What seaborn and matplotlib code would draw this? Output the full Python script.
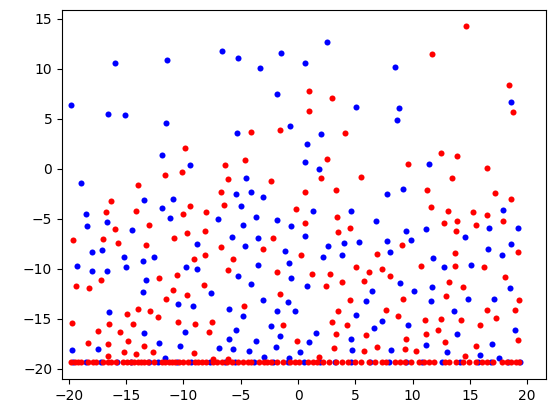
import matplotlib
matplotlib.use("Agg")
import matplotlib.pyplot as plt
import seaborn as sns
import pandas as pd

blue_x = [-19.8,-16.0,-11.4,-6.6,-5.2,-3.3,-1.5,-1.8,-16.6,-15.1,-11.5,-5.3,-0.7,-18.9,-11.9,-9.4,-4.5,-5.4,-4.1,-3.1,
          -18.5,-18.4,-16.7,-13.4,-11.9,-10.9,-11.2,-14.5,-7.0,-5.0,-4.8,-3.7,-1.8,-0.6,-18.0,-17.1,-19.3,-18.0,-16.7,-15.2,
          -15.0,-13.5,-12.6,-13.3,-8.8,-9.8,-8.8,-5.8,-4.6,-3.5,-1.1,-0.8,-5.2,-4.1,-3.5,-0.6,-13.5,-7.6,-10.5,-9.2,
          -16.5,-6.0,-4.8,-3.1,-1.8,-0.9,-0.3,-13.4,-9.9,-5.4,-2.4,-1.6,-19.7,-17.5,-12.1,-10.3,-6.0,-6.9,-5.7,-4.3,
          -3.7,-1.9,-11.6,-3.0,-0.8,
          2.5,0.6,8.5,5.1,8.8,8.6,2.0,0.8,0.6,1.8,11.4,18.6,9.2,7.8,1.3,4.6,6.8,0.6,2.6,4.0,5.3,2.2,3.8,7.8,8.0,9.4,9.9,
          11.2,11.8,14.6,12.7,15.1,16.6,16.7,17.9,18.6,19.2,17.8,0.8,6.5,8.9,10.1,11.7,11.6,14.8,17.1,18.5,5.9,5.1,7.3,
          6.6,9.6,13.6,13.9,18.9,1.6,1.0,4.6,0.2,4.7,8.1,11.2,13.0,16.9,15.9,17.5]
blue_y = [6.4,10.6,10.9,11.8,11.1,10.1,11.6,7.5,5.5,5.4,4.6,3.6,4.3,-1.4,1.4,0.4,-0.9,-2.5,-2.3,-2.8,
          -4.5,-5.7,-5.3,-3.1,-3.9,-3.0,-4.9,-6.1,-5.0,-3.7,-5.6,-4.8,-5.1,-5.7,-8.3,-8.1,-9.7,-10.2,-10.2,-8.8,
          -9.8,-9.2,-8.8,-11.1,-7.5,-9.8,-10.0,-6.8,-7.7,-6.9,-8.2,-9.4,-10.7,-11.5,-9.6,-10.9,-12.3,-12.4,-13.5,-13.7,
          -14.3,-14.0,-14.7,-13.1,-14.2,-13.3,-14.2,-16.4,-16.3,-16.1,-15.7,-16.7,-18.1,-18.0,-17.4,-17.7,-17.0,-17.9,-18.0,-18.2,
          -17.2,-17.8,-18.9,-18.8,-18.9,
          12.7,10.6,10.2,6.2,6.1,4.9,3.5,2.5,0.7,0.0,0.5,6.7,-2.0,-2.5,-4.2,-4.2,-5.2,-6.7,-7.7,-7.4,-7.3,-8.8,-8.6,-7.2,-8.3,-6.2,-7.1,
          -6.0,-8.9,-6.8,-9.8,-9.6,-8.0,-5.9,-4.1,-7.5,-5.9,-8.6,-11.7,-12.2,-11.4,-12.2,-11.8,-13.2,-13.0,-13.0,-11.9,-13.2,-14.6,-15.2,
          -15.9,-15.6,-14.2,-16.5,-16.1,-16.4,-17.3,-17.0,-18.3,-18.1,-18.1,-17.6,-18.3,-17.5,-18.6,-18.9]

red_x = [-4.1,-1.6,-9.9,-11.6,-10.1,-6.4,-6.1,-4.6,-2.4,-14.0,-16.3,-16.8,-14.1,-10.0,-9.4,-8.0,-6.7,-6.5,-0.2,-19.6,
         -17.0,-16.0,-15.7,-13.0,-13.3,-10.8,-9.7,-8.1,-6.7,-2.2,-3.1,-19.4,-18.2,-17.2,-12.1,-10.6,-9.1,-8.1,-5.7,-6.1,
         -1.8,-8.2,-11.5,-10.9,-9.7,-1.6,-19.7,-17.5,-16.5,-15.5,-14.9,-14.4,-14.0,-12.9,-12.2,-10.5,-9.0,-7.8,-7.5,-4.7,
         -1.3,-18.3,-16.6,-14.8,-15.2,-14.1,-13.4,-12.7,-9.1,-16.6,-7.4,-6.1,-0.1,
         14.7,11.7,1.0,1.0,3.0,18.4,18.8,4.1,2.5,2.0,5.5,9.6,12.5,13.9,13.4,16.5,0.6,3.3,11.3,17.2,18.6,0.6,3.4,3.5,4.5,
         11.6,12.7,13.1,13.9,13.8,15.3,15.5,16.5,17.9,0.3,6.9,9.1,13.7,19.2,1.2,2.8,2.4,3.8,5.1,5.8,6.2,7.3,8.0,10.7,13.7,
         16.2,18.1,13.2,14.4,4.5,3.5,3.0,4.3,7.7,8.7,9.2,12.9,11.1,12.5,14.2,16.5,17.3,15.9,18.9,19.3,3.3,5.9,9.4,11.2,
         12.2,12.8,15.5,19.2,3.1,5.8,6.9,9.3,10.3,14.6,1.8]
red_y = [3.7,3.9,2.1,-0.6,-0.3,0.4,-1.0,0.9,-1.2,-1.6,-3.2,-4.3,-4.2,-4.5,-3.7,-4.3,-2.3,-3.6,-4.0,-7.1,
         -7.0,-6.0,-7.4,-5.6,-7.6,-6.9,-6.4,-6.2,-7.8,-6.9,-8.0,-11.7,-11.9,-11.1,-10.9,-10.6,-9.0,-8.6,-9.0,-10.1,
         -10.3,-11.6,-13.0,-12.1,-12.6,-12.5,-15.4,-16.2,-15.5,-16.3,-14.5,-15.5,-14.0,-14.2,-14.8,-15.3,-15.5,-16.3,-15.3,-13.7,
         -15.6,-17.4,-17.5,-17.2,-18.3,-18.5,-17.7,-18.3,-18.4,-18.7,-19.0,-19.0,-17.2,
         14.3,11.5,7.8,5.8,7.1,8.4,5.7,3.6,1.0,-0.9,-0.8,0.5,1.6,1.3,-0.9,0.1,-2.3,-2.1,-2.1,-2.4,-3.0,-5.4,-4.8,-6.3,-5.9,
         -3.8,-5.4,-4.2,-5.2,-6.2,-4.3,-5.6,-4.6,-5.2,-8.6,-8.5,-7.6,-8.4,-8.3,-10.5,-10.5,-11.7,-11.3,-9.8,-11.2,-10.3,-10.0,-10.7,-9.7,-9.7,
         -9.8,-10.8,-11.3,-11.8,-13.1,-14.2,-15.3,-15.6,-14.1,-14.7,-13.0,-12.7,-15.1,-15.0,-15.1,-14.1,-14.9,-15.6,-14.1,-13.1,-16.5,-16.6,-17.0,-16.5,
         -16.1,-17.3,-17.7,-17.1,-17.9,-18.2,-17.8,-18.0,-18.2,-18.7,-18.8]

floor_blue_x = [-19.6,-18.5,-17.2,-15.8,-14.6,-13.0,-12.2,-10.6,-9.3,-7.7,-6.4,-5.5,-3.8,-2.2,-0.9,0.5,1.9,3.2,4.6,
                6.3,7.9,9.4,10.8,12.6,14.1,15.7,16.8,18.3,19.4]
floor_red_x = [-19.8,-19.5,-19.2,-18.9,-18.3,-17.9,-17.6,-17.0,-16.6,-16.3,-15.9,-15.3,-14.9,-14.6,-14.3,-14.0,-13.7,-13.4,
               -13.1,-12.6,-11.9,-11.6,-11.3,-11.0,-10.7,-10.4,-10.0,-9.6,-9.0,-8.7,-8.4,-8.0,-7.4,-7.1,-6.6,-6.2,-5.8,
               -5.2,-4.8,-4.4,-4.1,-3.4,-3.0,-2.7,-2.4,-1.8,-1.3,-0.7,-0.3,0.1,0.9,1.3,1.7,2.2,2.7,3.3,3.8,4.4,5.0,
               5.5,6.2,6.7,7.3,7.7,8.5,8.9,9.3,9.9,10.6,11.0,11.4,11.9,12.8,13.2,13.8,14.4,14.9,15.5,16.1,16.5,17.0,
               17.8,18.2,18.6,19.0,19.3]
floor_y = -19.3

fig, ax = plt.subplots(figsize=(5.55, 4.13), dpi=100)
db = pd.DataFrame({"x": blue_x + floor_blue_x, "y": blue_y + [floor_y] * len(floor_blue_x)})
dr = pd.DataFrame({"x": red_x + floor_red_x, "y": red_y + [floor_y] * len(floor_red_x)})
sns.scatterplot(data=db, x="x", y="y", color="blue", s=19, linewidth=0, ax=ax)
sns.scatterplot(data=dr, x="x", y="y", color="red", s=19, linewidth=0, ax=ax)
ax.set_xlim(-20.6, 21.6)
ax.set_ylim(-21.0, 15.9)
ax.set_xlabel("")
ax.set_ylabel("")
fig.subplots_adjust(left=62/555, right=545.5/555, bottom=1-379/413, top=1-10/413)
fig.savefig("out.png", dpi=100)
